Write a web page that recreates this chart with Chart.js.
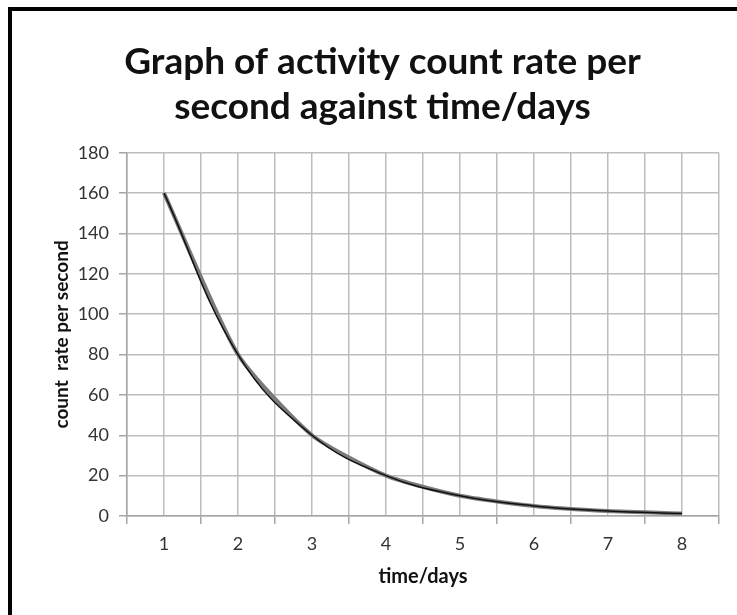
<!DOCTYPE html>
<html>
<head>
<meta charset="utf-8">
<script src="https://cdn.jsdelivr.net/npm/chart.js@4"></script>
<style>
    html, body { margin: 0; padding: 0; background: #fff; }
    #wrap { position: relative; width: 737px; height: 615px; }
    #frame {
        position: absolute; left: 8px; top: 7px; right: 0; bottom: 0;
        border-left: 4px solid #000; border-top: 4px solid #000;
        pointer-events: none;
    }
</style>
</head>
<body>
<div id="wrap">
    <canvas id="chart" width="737" height="615"></canvas>
    <div id="frame"></div>
</div>
<script>
// time in days and measured count rate
const days = [1, 2, 3, 4, 5, 6, 7, 8];
const countRate = [160, 80, 40, 20, 10, 5, 2.5, 1.25];
const yTicks = [0, 20, 40, 60, 80, 100, 120, 140, 160, 180];

const titleLines = ['Graph of activity count rate per', 'second against time/days'];
const fontName = 'Lato, "Open Sans", sans-serif';

const points = days.map((d, i) => ({ x: d, y: countRate[i] }));

new Chart(document.getElementById('chart').getContext('2d'), {
    type: 'line',
    data: {
        datasets: [
            {
                data: points,
                borderColor: '#111',
                borderWidth: 1.5,
                tension: 0.4,
                pointRadius: 0,
                order: 0
            },
            {
                data: points,
                borderColor: '#7a7a7a',
                borderWidth: 4,
                tension: 0.2,
                pointRadius: 0,
                order: 1
            }
        ]
    },
    options: {
        responsive: false,
        animation: false,
        layout: { padding: { left: 46, right: 18, top: 0, bottom: 22 } },
        plugins: {
            legend: { display: false },
            tooltip: { enabled: false },
            title: {
                display: true,
                text: titleLines,
                color: '#111',
                font: { family: fontName, size: 37, weight: 'bold', lineHeight: 1.2 },
                padding: { top: 40, bottom: 24 }
            }
        },
        scales: {
            x: {
                type: 'linear',
                min: 0.5,
                max: 8.5,
                afterBuildTicks: (scale) => {
                    const t = [];
                    for (let v = 0.5; v <= 8.5; v += 0.5) t.push({ value: v });
                    scale.ticks = t;
                },
                afterFit: (scale) => { scale.height = 77; },
                border: { color: '#a6a6a6', width: 1.5 },
                grid: {
                    color: '#bdbdbd',
                    lineWidth: 1.5,
                    tickLength: 8,
                    tickColor: (ctx) => (ctx.tick && Number.isInteger(ctx.tick.value)) ? 'rgba(0,0,0,0)' : '#a6a6a6'
                },
                ticks: {
                    autoSkip: false,
                    maxRotation: 0,
                    padding: 9,
                    color: '#333',
                    font: { family: fontName, size: 18 },
                    callback: (v) => Number.isInteger(v) ? String(v) : ''
                },
                title: {
                    display: true,
                    text: 'time/days',
                    color: '#111',
                    font: { family: fontName, size: 20, weight: 'bold' },
                    padding: { top: 8 }
                }
            },
            y: {
                min: 0,
                max: 180,
                afterBuildTicks: (scale) => {
                    scale.ticks = yTicks.map(v => ({ value: v }));
                },
                afterFit: (scale) => { scale.width = 81; },
                border: { color: '#a6a6a6', width: 1.5 },
                grid: {
                    color: '#bdbdbd',
                    lineWidth: 1.5,
                    tickLength: 8,
                    tickColor: '#a6a6a6'
                },
                ticks: {
                    padding: 10,
                    color: '#333',
                    font: { family: fontName, size: 18 }
                },
                title: {
                    display: true,
                    text: 'count  rate per second',
                    color: '#111',
                    font: { family: fontName, size: 19, weight: 'bold' },
                    padding: { bottom: 6 }
                }
            }
        }
    }
});
</script>
</body>
</html>
